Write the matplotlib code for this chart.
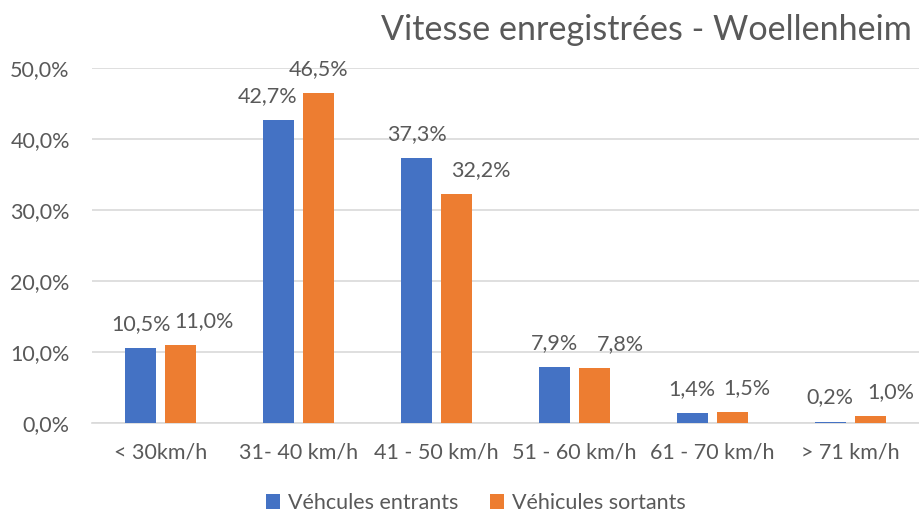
import matplotlib.pyplot as plt
import numpy as np

# donnees
categories = ["< 30km/h", "31- 40 km/h", "41 - 50 km/h", "51 - 60 km/h", "61 - 70 km/h", "> 71 km/h"]
entrants = [10.5, 42.7, 37.3, 7.9, 1.4, 0.2]
sortants = [11.0, 46.5, 32.2, 7.8, 1.5, 1.0]
y_ticks = [0, 10, 20, 30, 40, 50]

# decalage horizontal des etiquettes (pixels), comme Excel les place
dx_entrants = [0, -11, 0, 0, 0, 0]
dx_sortants = [23, 0, 24, 26, 15, 21]

blue = "#4472C4"
orange = "#ED7D31"
grey = "#595959"

plt.rcParams["font.family"] = ["Lato", "DejaVu Sans"]

fig = plt.figure(figsize=(9.19, 5.15), dpi=100)
ax = fig.add_axes([92 / 919, 1 - 423 / 515, 827 / 919, (423 - 68) / 515])

x = np.arange(len(categories))
w = 0.225
off = 0.145
b1 = ax.bar(x - off, entrants, w, color=blue, label="Véhcules entrants", zorder=3)
b2 = ax.bar(x + off, sortants, w, color=orange, label="Véhicules sortants", zorder=3)

def fmt(v):
    return f"{v:.1f}%".replace(".", ",")

for xi, v, dx in zip(x - off, entrants, dx_entrants):
    ax.annotate(fmt(v), (xi, v), xytext=(dx, 24), textcoords="offset pixels",
                ha="center", va="center", fontsize=15.5, color=grey)
for xi, v, dx in zip(x + off, sortants, dx_sortants):
    ax.annotate(fmt(v), (xi, v), xytext=(dx, 24), textcoords="offset pixels",
                ha="center", va="center", fontsize=15.5, color=grey)

ax.set_xlim(-0.5, len(categories) - 0.5)
ax.set_ylim(0, 50)
ax.set_yticks(y_ticks)
ax.set_yticklabels([fmt(t) for t in y_ticks])
ax.set_xticks(x)
ax.set_xticklabels(categories)
ax.tick_params(axis="both", length=0, labelsize=15.5, colors=grey)
ax.tick_params(axis="y", pad=16)
ax.tick_params(axis="x", pad=14)
ax.grid(axis="y", color="#D9D9D9", linewidth=1.2, zorder=0)
for s in ["top", "right", "left"]:
    ax.spines[s].set_visible(False)
ax.spines["bottom"].set_color("#D9D9D9")
ax.spines["bottom"].set_linewidth(1.2)

fig.text(912 / 919, 1 - 30 / 515, "Vitesse enregistrées - Woellenheim", ha="right", va="center",
         fontsize=24.6, color=grey)

fig.legend(handles=[b1, b2], loc="center", bbox_to_anchor=(476 / 919, 1 - 503 / 515), ncol=2,
           frameon=False, fontsize=15.5, labelcolor=grey, handlelength=0.65, handleheight=0.65,
           handletextpad=0.35, columnspacing=1.5)

fig.savefig("out.png", dpi=100)
